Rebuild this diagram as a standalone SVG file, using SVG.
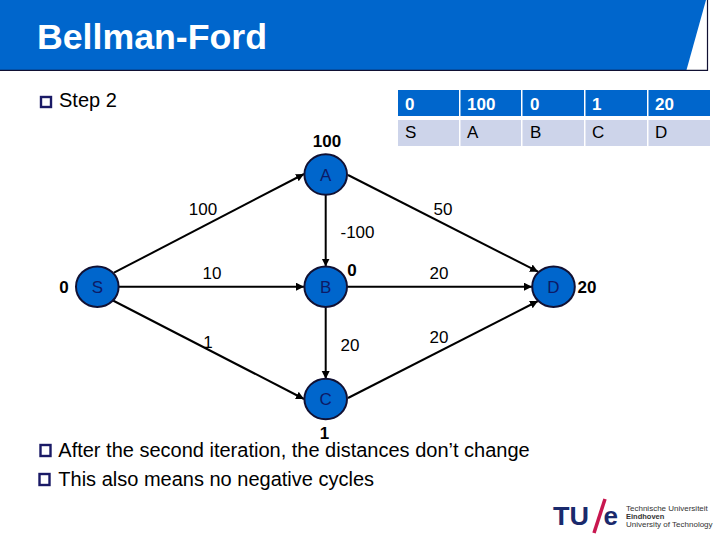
<svg xmlns="http://www.w3.org/2000/svg" width="720" height="540" viewBox="0 0 720 540">
<style>
text{font-family:"Liberation Sans",Arial,sans-serif;fill:#000}
.b{font-size:20px}
.w{font-size:17px;text-anchor:middle}
.d{font-size:17px;font-weight:bold;text-anchor:middle}
.n ellipse{fill:#0066cc;stroke:#111133;stroke-width:2}
.n text{font-size:17px;text-anchor:middle;fill:#0d1a66}
.c{stroke:#000;stroke-width:2;fill:none;marker-end:url(#a)}
.h{fill:#0066cc}.r{fill:#cdd4ea}
.hh{font-size:17px;font-weight:bold;fill:#fff}
.rr{font-size:17px}
.bu{fill:none;stroke:#1a1a66;stroke-width:2.4}
</style>
<defs><marker id="a" markerUnits="userSpaceOnUse" markerWidth="9" markerHeight="9" refX="8" refY="4" orient="auto"><path d="M0 0L8 4L0 8Z" fill="#000"/></marker></defs>
<rect width="720" height="540" fill="#fff"/>
<g id="header">
<rect x="0" y="0" width="707.500" height="70" fill="#0066cc"/>
<path d="M706 0L708 0L708 70L686.500 70Z" fill="#fff"/>
<path d="M707.500 0V70.300H0" fill="none" stroke="#111133" stroke-width="1.200"/>
<text x="37" y="48.500" font-size="35.700" font-weight="bold" style="fill:#fff">Bellman-Ford</text>
</g>
<g id="bullets">
<rect class="bu" x="41" y="97" width="10" height="10"/>
<text class="b" x="59" y="107.300">Step 2</text>
<rect class="bu" x="40.500" y="445" width="10" height="11"/>
<text class="b" x="58.300" y="456.700">After the second iteration, the distances don’t change</text>
<rect class="bu" x="39.500" y="474" width="10" height="11"/>
<text class="b" x="58.300" y="485.700">This also means no negative cycles</text>
</g>
<g id="table">
<rect class="h" x="398" y="90" width="61" height="26"/><rect class="h" x="460.500" y="90" width="60.500" height="26"/><rect class="h" x="522.500" y="90" width="61.500" height="26"/><rect class="h" x="585.500" y="90" width="61.500" height="26"/><rect class="h" x="648.500" y="90" width="61.500" height="26"/>
<rect class="r" x="398" y="120" width="61" height="26"/><rect class="r" x="460.500" y="120" width="60.500" height="26"/><rect class="r" x="522.500" y="120" width="61.500" height="26"/><rect class="r" x="585.500" y="120" width="61.500" height="26"/><rect class="r" x="648.500" y="120" width="61.500" height="26"/>
<text class="hh" x="405" y="110">0</text><text class="hh" x="467" y="110">100</text><text class="hh" x="530" y="110">0</text><text class="hh" x="592" y="110">1</text><text class="hh" x="655" y="110">20</text>
<text class="rr" x="405" y="138.300">S</text><text class="rr" x="467" y="138.300">A</text><text class="rr" x="530" y="138.300">B</text><text class="rr" x="592" y="138.300">C</text><text class="rr" x="655" y="138.300">D</text>
</g>
<g id="connectors">
<line class="c" x1="114" y1="272.700" x2="304" y2="174"/>
<line class="c" x1="119" y1="286.700" x2="304" y2="286.700"/>
<line class="c" x1="112" y1="300" x2="304" y2="399"/>
<line class="c" x1="325.700" y1="195" x2="325.700" y2="266.500"/>
<line class="c" x1="325.700" y1="307" x2="325.700" y2="379"/>
<line class="c" x1="348" y1="175" x2="538" y2="271.700"/>
<line class="c" x1="347" y1="286.700" x2="532" y2="286.700"/>
<line class="c" x1="348" y1="398" x2="538" y2="301"/>
</g>
<g id="node-S" class="n"><ellipse cx="97.300" cy="286.700" rx="21.300" ry="20.300"/><text x="97.300" y="292.700">S</text></g>
<g id="node-A" class="n"><ellipse cx="325.700" cy="174.500" rx="21.300" ry="20.300"/><text x="325.700" y="180.700">A</text></g>
<g id="node-B" class="n"><ellipse cx="325.700" cy="286.700" rx="21.300" ry="20.300"/><text x="325.700" y="292.700">B</text></g>
<g id="node-C" class="n"><ellipse cx="325.700" cy="399" rx="21.300" ry="20.300"/><text x="325.700" y="405">C</text></g>
<g id="node-D" class="n"><ellipse cx="553.500" cy="286.700" rx="21.300" ry="20.300"/><text x="553.500" y="292.700">D</text></g>
<g id="edge-labels">
<text class="w" x="203" y="215">100</text>
<text class="w" x="212" y="279">10</text>
<text class="w" x="208" y="348">1</text>
<text class="w" x="357.500" y="238">-100</text>
<text class="w" x="350" y="350.700">20</text>
<text class="w" x="443" y="215">50</text>
<text class="w" x="439" y="279">20</text>
<text class="w" x="439" y="342.700">20</text>
</g>
<g id="distance-labels">
<text class="d" x="64" y="292.700">0</text>
<text class="d" x="352" y="275.700">0</text>
<text class="d" x="327" y="147">100</text>
<text class="d" x="324.500" y="439.300">1</text>
<text class="d" x="587" y="292.700">20</text>
</g>
<g id="logo">
<text x="553" y="524.500" font-size="26" font-weight="bold" style="fill:#1a2a6c" textLength="36" lengthAdjust="spacingAndGlyphs">TU</text>
<line x1="594" y1="533" x2="605" y2="499" stroke="#c8174f" stroke-width="3.500"/>
<text x="603.500" y="525" font-size="26" font-weight="bold" style="fill:#1a2a6c">e</text>
<text x="626" y="510.700" font-size="8" style="fill:#333">Technische Universiteit</text>
<text x="626" y="518.500" font-size="7.500" font-weight="bold" style="fill:#333">Eindhoven</text>
<text x="626" y="527.300" font-size="8" style="fill:#333">University of Technology</text>
</g>
</svg>
